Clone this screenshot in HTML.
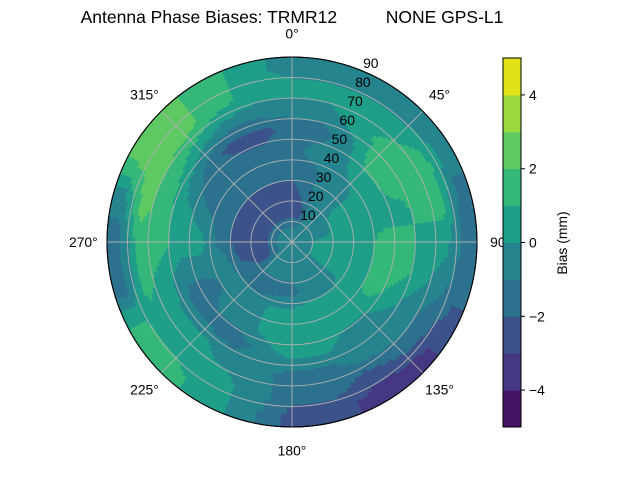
<!DOCTYPE html>
<html><head><meta charset="utf-8">
<style>
html,body{margin:0;padding:0;background:#fff;}
svg{display:block;font-family:"Liberation Sans","DejaVu Sans",sans-serif;}
</style></head>
<body>
<svg id="chart" width="640" height="480" viewBox="0 0 640 480" xmlns="http://www.w3.org/2000/svg">
<text x="292" y="23" font-size="17.5" text-anchor="middle" xml:space="preserve">Antenna Phase Biases: TRMR12          NONE GPS-L1</text>
<g id="contours"></g>
<g id="grid"></g>
<g id="labels"></g>
<g id="cbar"></g>
</svg>
<script>
// azimuth bin centers (deg) and zenith ring centers (deg)
const azimuths = [0,15,30,45,60,75,90,105,120,135,150,165,180,195,210,225,240,255,270,285,300,315,330,345];
const zeniths = [5,15,25,35,45,55,65,75,85];
// bias values (mm) per zenith ring, per azimuth
const ring0 = [-0.5,-0.5,-0.5,-0.5,-0.5,-0.5,-0.5,-0.5,-0.5,-0.5,-0.5,-0.5,-0.5,-0.5,-0.5,-0.5,-0.5,-0.5,-0.5,-0.5,-0.5,-0.5,-0.5,-0.5];
const ring1 = [-2.5,-2.5,-0.5,-0.5,-0.5,-0.5,0.5,0.5,0.5,-0.5,-0.5,-0.5,-0.5,-0.5,-0.5,-0.5,-2.5,-2.5,-2.5,-2.5,-2.5,-2.5,-2.5,-2.5];
const ring2 = [-2.5,-1.5,-0.5,-0.5,0.5,0.5,0.5,0.5,0.5,-0.5,-0.5,-0.5,-1.5,-1.5,-1.5,-1.5,-1.5,-2.5,-2.5,-2.5,-2.5,-2.5,-2.5,-2.5];
const ring3 = [-1.5,-1.5,-0.5,-0.5,0.5,0.5,0.5,0.5,0.5,0.5,0.5,0.5,0.5,0.5,-0.5,-0.5,-0.5,-0.5,-1.5,-1.5,-1.5,-1.5,-1.5,-1.5];
const ring4 = [-1.5,-0.5,-0.5,0.5,0.5,0.5,1.5,1.5,1.5,0.5,0.5,0.5,0.5,0.5,-0.5,-0.5,-1.5,-0.5,0.5,-0.5,-1.5,-1.5,-1.5,-1.5];
const ring5 = [-1.5,-1.5,-0.5,1.5,1.5,0.5,1.5,1.5,0.5,-0.5,-0.5,0.5,0.5,-0.5,-1.5,-1.5,-1.5,-0.5,0.5,0.5,-0.5,-1.5,-2.5,-2.5];
const ring6 = [-0.5,-0.5,0.5,1.5,1.5,1.5,0.5,0.5,-0.5,-0.5,-0.5,-1.5,-1.5,-0.5,-0.5,0.5,0.5,0.5,1.5,1.5,1.5,0.5,-0.5,-0.5];
const ring7 = [0.5,0.5,0.5,0.5,1.5,1.5,0.5,-0.5,-1.5,-1.5,-2.5,-1.5,-1.5,-0.5,0.5,0.5,0.5,1.5,1.5,2.5,2.5,2.5,1.5,0.5];
const ring8 = [-0.5,-0.5,-0.5,-0.5,-0.5,-1.5,-1.5,-1.5,-2.5,-3.5,-3.5,-2.5,-2.5,-0.5,0.5,1.5,1.5,-1.5,-1.5,-0.5,2.5,2.5,1.5,0.5];
const rings = [ring0,ring1,ring2,ring3,ring4,ring5,ring6,ring7,ring8];
const levels = [-5,-4,-3,-2,-1,0,1,2,3,4,5];
const radialTicks = ["10","20","30","40","50","60","70","80","90"];
const angleTicks = ["0°","45°","90°","135°","180°","225°","270°","315°"];
const cbarTicks = ["−4","−2","0","2","4"];
const cbarTickVals = [-4,-2,0,2,4];

const colors = ["#471365","#453781","#3b528b","#2c728e","#25848e","#1f9e89","#35b779","#5ec962","#9bd93c","#dfe318"];
const CX=292, CY=242, R=185, ZMAX=90;
const NS="http://www.w3.org/2000/svg";
function rScale(z){return z/ZMAX*R;}
function pt(az,z){const a=az*Math.PI/180, r=rScale(z);return [CX+r*Math.sin(a), CY-r*Math.cos(a)];}
function band(v){for(let i=0;i<levels.length-1;i++){if(v<levels[i+1])return i;}return levels.length-2;}
function valueAt(az,z){
  const n=azimuths.length, step=360/n;
  let fa=((az%360)+360)%360/step; const i0=Math.floor(fa)%n, i1=(i0+1)%n; const ta=fa-Math.floor(fa);
  let fz=(z-zeniths[0])/(zeniths[1]-zeniths[0]); fz=Math.max(0,Math.min(zeniths.length-1,fz));
  const j0=Math.floor(fz), j1=Math.min(zeniths.length-1,j0+1), tz=fz-j0;
  const v0=rings[j0][i0]*(1-ta)+rings[j0][i1]*ta;
  const v1=rings[j1][i0]*(1-ta)+rings[j1][i1]*ta;
  return v0*(1-tz)+v1*tz;
}
function sector(a0,a1,z0,z1){
  const [x1,y1]=pt(a0,z1),[x2,y2]=pt(a1,z1),[x3,y3]=pt(a1,z0),[x4,y4]=pt(a0,z0);
  const r1=rScale(z1), r0=rScale(z0), large=(a1-a0)>180?1:0;
  let d=`M${x1.toFixed(2)},${y1.toFixed(2)}A${r1.toFixed(2)},${r1.toFixed(2)} 0 ${large} 1 ${x2.toFixed(2)},${y2.toFixed(2)}`;
  if(r0>0.01) d+=`L${x3.toFixed(2)},${y3.toFixed(2)}A${r0.toFixed(2)},${r0.toFixed(2)} 0 ${large} 0 ${x4.toFixed(2)},${y4.toFixed(2)}Z`;
  else d+=`L${CX},${CY}Z`;
  return d;
}
const cg=document.getElementById('contours');
const AS=2, ZS=1.5;
function addSector(a0,a1,z0,z1,b){
  const p=document.createElementNS(NS,'path');
  p.setAttribute('d',sector(a0,a1,z0,z1));
  p.setAttribute('fill',colors[b]);
  
  
  cg.appendChild(p);
}
for(let z=0; z<ZMAX-1e-6; z+=ZS){
  const z1=Math.min(ZMAX,z+ZS), zc=(z+z1)/2;
  let runStart=0, runBand=band(valueAt(AS/2,zc));
  for(let a=AS; a<=360; a+=AS){
    const b = a<360 ? band(valueAt(a+AS/2,zc)) : -1;
    if(b!==runBand || a-runStart>=120){
      addSector(runStart-0.3,a+0.3,Math.max(0,z-0.3),z1+(z1<ZMAX?0.3:0),runBand);
      runStart=a; runBand=b;
    }
  }
}
const gg=document.getElementById('grid');
radialTicks.forEach((t,i)=>{
  const z=(i+1)*10;
  const c=document.createElementNS(NS,'circle');
  c.setAttribute('cx',CX);c.setAttribute('cy',CY);c.setAttribute('r',rScale(z));
  c.setAttribute('fill','none');c.setAttribute('stroke',z===90?'#000':'#b0b0b0');c.setAttribute('stroke-width',z===90?1:0.9);
  
  
  gg.appendChild(c);
});
angleTicks.forEach((t,i)=>{
  const az=i*45; const [x,y]=pt(az,ZMAX);
  const l=document.createElementNS(NS,'line');
  l.setAttribute('x1',CX);l.setAttribute('y1',CY);l.setAttribute('x2',x);l.setAttribute('y2',y);
  l.setAttribute('stroke','#b0b0b0');l.setAttribute('stroke-width',0.9);
  
  
  gg.appendChild(l);
});
const outer=document.createElementNS(NS,'circle');
outer.setAttribute('cx',CX);outer.setAttribute('cy',CY);outer.setAttribute('r',R);outer.setAttribute('fill','none');outer.setAttribute('stroke','#000');


gg.appendChild(outer);

const lg=document.getElementById('labels');
function txt(parent,x,y,s,anchor,name,size){
  const t=document.createElementNS(NS,'text');
  t.setAttribute('x',x);t.setAttribute('y',y);t.setAttribute('font-size',size||13.9);
  t.setAttribute('text-anchor',anchor);t.setAttribute('dominant-baseline','central');
  t.textContent=s;
  
  
  parent.appendChild(t);return t;
}
angleTicks.forEach((s,i)=>{
  const az=i*45; const [x,y]=pt(az,ZMAX+11.5);
  txt(lg,x,y,s,'middle','angle-tick-label');
});
radialTicks.forEach((s,i)=>{
  const [x,y]=pt(22.5,(i+1)*10);
  txt(lg,x+8,y-8,s,'middle','radial-tick-label');
});
const cb=document.getElementById('cbar');
const CBX=503, CBW=18, CBT=58, CBB=427;
function cbY(v){return CBB-(v-levels[0])/(levels[levels.length-1]-levels[0])*(CBB-CBT);}
for(let i=0;i<levels.length-1;i++){
  const r=document.createElementNS(NS,'rect');
  const y0=cbY(levels[i+1]), y1=cbY(levels[i]);
  r.setAttribute('x',CBX);r.setAttribute('y',y0);r.setAttribute('width',CBW);r.setAttribute('height',y1-y0+0.5);
  r.setAttribute('fill',colors[i]);
  
  
  cb.appendChild(r);
}
const fr=document.createElementNS(NS,'rect');
fr.setAttribute('x',CBX);fr.setAttribute('y',CBT);fr.setAttribute('width',CBW);fr.setAttribute('height',CBB-CBT);
fr.setAttribute('fill','none');fr.setAttribute('stroke','#000');fr.setAttribute('stroke-width',1);


cb.appendChild(fr);
cbarTicks.forEach((s,i)=>{
  const y=cbY(cbarTickVals[i]);
  const l=document.createElementNS(NS,'line');
  l.setAttribute('x1',CBX+CBW);l.setAttribute('x2',CBX+CBW+4);l.setAttribute('y1',y);l.setAttribute('y2',y);l.setAttribute('stroke','#000');
  
  
  cb.appendChild(l);
  txt(cb,CBX+CBW+8,y,s,'start','colorbar-tick-label');
});
const yl=txt(cb,0,0,'Bias (mm)','middle','colorbar-label');
yl.setAttribute('transform','translate(562,243) rotate(-90)');
</script>
</body></html>
